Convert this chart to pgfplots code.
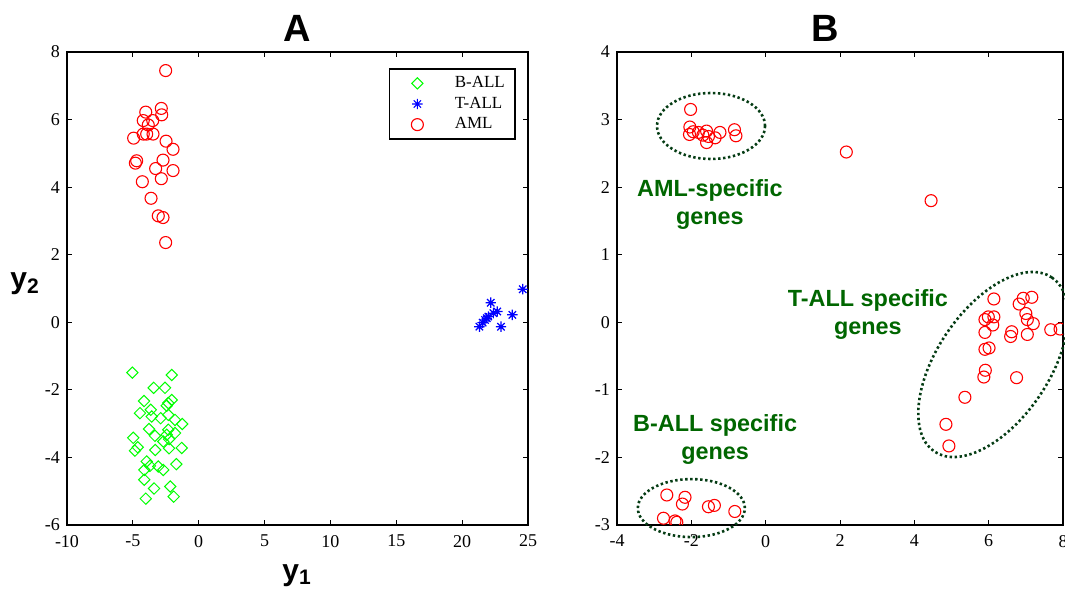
\documentclass[border=0pt]{standalone}
\usepackage{fontspec}
\setmainfont{Liberation Serif}
\newfontfamily\arial{Liberation Sans}
\usepackage{pgfplots}
\pgfplotsset{compat=1.18}
\usetikzlibrary{shapes.geometric}

\definecolor{mgreen}{RGB}{0,255,0}
\definecolor{mblue}{RGB}{0,0,255}
\definecolor{mred}{RGB}{255,0,0}
\definecolor{ringcol}{RGB}{5,60,20}
\definecolor{annot}{RGB}{0,102,0}

% matlab style 8-arm star
\pgfdeclareplotmark{mstar}{%
  \pgfpathmoveto{\pgfqpoint{0pt}{\pgfplotmarksize}}\pgfpathlineto{\pgfqpoint{0pt}{-\pgfplotmarksize}}%
  \pgfpathmoveto{\pgfqpoint{\pgfplotmarksize}{0pt}}\pgfpathlineto{\pgfqpoint{-\pgfplotmarksize}{0pt}}%
  \pgfpathmoveto{\pgfqpoint{.707\pgfplotmarksize}{.707\pgfplotmarksize}}\pgfpathlineto{\pgfqpoint{-.707\pgfplotmarksize}{-.707\pgfplotmarksize}}%
  \pgfpathmoveto{\pgfqpoint{-.707\pgfplotmarksize}{.707\pgfplotmarksize}}\pgfpathlineto{\pgfqpoint{.707\pgfplotmarksize}{-.707\pgfplotmarksize}}%
  \pgfusepathqstroke}

\pgfplotsset{
  mstyle/.style={
    scale only axis, height=236.5pt,
    tick align=inside, tick pos=both,
    major tick length=2.5pt,
    axis line style={line width=0.8pt},
    tick style={line width=0.5pt, black},
    tick label style={font=\fontsize{9}{10}\selectfont},
    /pgf/number format/assume math mode=true,
    xticklabel style={yshift=-1.5pt},
  },
  legimg/.style={legend image code/.code={%
    \path[draw=none] (0pt,0pt) rectangle (18pt,0pt);
    \draw[##1] plot[only marks] coordinates {(10pt,0pt)};}},
}

\begin{document}
\begin{tikzpicture}
\useasboundingbox (-33.5pt,-32pt) rectangle (499pt,262.5pt);

\begin{axis}[mstyle, at={(0pt,0pt)}, anchor=south west, width=230.5pt,
  xmin=-10, xmax=25, ymin=-6, ymax=8,
  xtick={-10,-5,...,25}, ytick={-6,-4,...,8},
  legend style={at={(0.974,0.966)}, anchor=north east, draw=black, line width=0.8pt,
    font=\fontsize{8.5}{10}\selectfont, inner xsep=4pt, inner ysep=2.5pt,
    nodes={inner sep=1.2pt}, row sep=0.8pt, column sep=9.5pt},
  legend cell align=left,
]
\addplot[only marks, mark=square, mark size=2pt, mark options={rotate=45, line width=0.5pt}, color=mgreen, legimg] coordinates {
(-5.04,-1.49) (-2.05,-1.56) (-3.42,-1.94) (-2.56,-1.94) (-4.15,-2.33) (-2.05,-2.30)
(-2.31,-2.39) (-2.43,-2.47) (-3.64,-2.59) (-4.46,-2.69) (-3.57,-2.79) (-2.89,-2.84)
(-2.31,-2.74) (-1.80,-2.89) (-1.25,-3.01) (-3.77,-3.16) (-2.31,-3.18) (-3.32,-3.36)
(-2.43,-3.33) (-1.80,-3.28) (-4.97,-3.42) (-2.25,-3.46) (-2.69,-3.53) (-4.63,-3.70)
(-4.84,-3.80) (-1.29,-3.72) (-2.25,-3.73) (-3.30,-3.78) (-3.95,-4.12) (-3.70,-4.25)
(-1.70,-4.20) (-2.69,-4.37) (-3.07,-4.27) (-4.13,-4.37) (-4.13,-4.66) (-3.39,-4.92)
(-2.16,-4.86) (-4.02,-5.22) (-1.90,-5.16)
};
\addlegendentry{B-ALL}
\addplot[only marks, mark=mstar, mark size=2.6pt, mark options={line width=0.6pt}, color=mblue, legimg] coordinates {
(24.60,0.98) (22.17,0.58) (21.31,-0.13) (21.56,-0.01) (21.74,0.07) (21.99,0.17)
(22.37,0.27) (22.67,0.32) (22.95,-0.13) (23.81,0.22) (21.87,0.12)
};
\addlegendentry{T-ALL}
\addplot[only marks, mark=o, mark size=3pt, mark options={line width=0.55pt}, color=mred, legimg] coordinates {
(-2.51,7.45) (-4.02,6.22) (-2.84,6.33) (-2.81,6.14) (-4.21,5.97) (-3.49,5.97)
(-3.83,5.84) (-4.94,5.45) (-4.21,5.57) (-3.95,5.57) (-3.47,5.57) (-2.48,5.36)
(-1.95,5.12) (-4.71,4.78) (-4.81,4.71) (-2.71,4.80) (-3.27,4.55) (-1.95,4.49)
(-2.84,4.25) (-4.28,4.16) (-3.62,3.67) (-3.07,3.15) (-2.71,3.10) (-2.51,2.36)
};
\addlegendentry{AML}
\end{axis}

\begin{axis}[mstyle, at={(275pt,0pt)}, anchor=south west, width=223pt,
  xmin=-4, xmax=8, ymin=-3, ymax=4,
  xtick={-4,-2,...,8}, ytick={-3,...,4},
  clip mode=individual, clip marker paths=true,
]
\addplot[only marks, mark=o, mark size=3pt, mark options={line width=0.55pt}, color=mred] coordinates {
(-2.02,3.15) (-2.04,2.89) (-1.95,2.82) (-2.05,2.78) (-1.81,2.81) (-1.69,2.77)
(-1.59,2.83) (-1.54,2.75) (-1.59,2.66) (-1.36,2.73) (-1.23,2.81) (-0.84,2.85)
(-0.80,2.76)
(2.17,2.52) (4.45,1.80)
(6.14,0.345) (6.93,0.355) (7.16,0.37) (6.82,0.27) (5.90,0.04) (5.99,0.08)
(6.14,0.08) (6.11,-0.04) (7.00,0.13) (7.04,0.04) (7.20,-0.02) (5.90,-0.15)
(6.62,-0.14) (6.59,-0.21) (7.04,-0.18) (7.67,-0.11) (7.92,-0.10) (5.90,-0.40)
(6.01,-0.38) (5.91,-0.71) (5.87,-0.81) (6.75,-0.82) (5.36,-1.11) (4.85,-1.51)
(4.93,-1.83)
(-2.66,-2.556) (-2.17,-2.59) (-2.24,-2.69) (-1.54,-2.73) (-1.38,-2.71) (-0.83,-2.80)
(-2.75,-2.90) (-2.44,-2.94) (-2.39,-2.96)
};
\node[draw=ringcol, ellipse, line width=1.3pt, dash pattern=on 1.2pt off 1.3pt, inner sep=0pt,
  minimum width=54pt, minimum height=33pt] at (axis cs:-1.47,2.905) {};
\node[draw=ringcol, ellipse, line width=1.3pt, dash pattern=on 1.2pt off 1.3pt, inner sep=0pt,
  minimum width=53.5pt, minimum height=29pt] at (axis cs:-2.0,-2.75) {};
\node[draw=ringcol, ellipse, line width=1.3pt, dash pattern=on 1.2pt off 1.3pt, inner sep=0pt,
  minimum width=105pt, minimum height=56pt, rotate=56] at (axis cs:6.12,-0.625) {};
\node[font=\arial\bfseries\fontsize{11.7}{14}\selectfont, text=annot, align=center]
  at (axis cs:-1.50,1.75) {AML-specific\\genes};
\node[font=\arial\bfseries\fontsize{11.7}{14}\selectfont, text=annot, align=center]
  at (axis cs:2.75,0.11) {T-ALL specific\\genes};
\node[font=\arial\bfseries\fontsize{11.7}{14}\selectfont, text=annot, align=center]
  at (axis cs:-1.36,-1.73) {B-ALL specific\\genes};
\end{axis}

\node[anchor=base, font=\arial\bfseries\fontsize{19}{22}\selectfont] at (115.25pt,241.5pt) {A};
\node[anchor=base, font=\arial\bfseries\fontsize{19}{22}\selectfont] at (379pt,241.5pt) {B};
\node[anchor=base, font=\arial\bfseries\fontsize{15}{18}\selectfont] at (115pt,-27.5pt) {y\textsubscript{1}};
\node[anchor=base west, inner sep=0pt, font=\arial\bfseries\fontsize{15}{18}\selectfont] at (-28.5pt,118pt) {y\textsubscript{2}};
\end{tikzpicture}
\end{document}
